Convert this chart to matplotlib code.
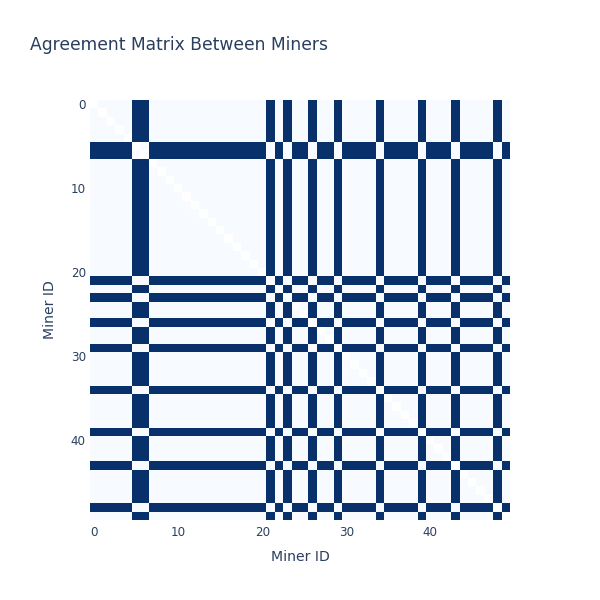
import numpy as np
import matplotlib.pyplot as plt

plt.rcParams['font.family'] = ['DejaVu Sans']

# miners 0..49; these miners disagree with the rest
n_miners = 50
dissenting = [5, 6, 21, 23, 26, 29, 34, 39, 43, 48]
tick_vals = [0, 10, 20, 30, 40]

group = np.zeros(n_miners, dtype=int)
group[dissenting] = 1
matrix = (group[:, None] != group[None, :]).astype(float)
np.fill_diagonal(matrix, np.nan)

text_color = '#2a3f5f'

fig = plt.figure(figsize=(6, 6), dpi=100)
ax = fig.add_axes([0.15, 0.1333, 0.7, 0.7])
ax.set_facecolor('white')
ax.imshow(matrix, cmap='Blues', vmin=0, vmax=1, interpolation='nearest',
          extent=(-0.5, n_miners - 0.5, n_miners - 0.5, -0.5), aspect='auto')

ax.set_xticks(tick_vals)
ax.set_yticks(tick_vals)
ax.tick_params(length=0, labelsize=8.6, labelcolor=text_color, pad=4)
ax.tick_params(axis='y', pad=3)
for s in ax.spines.values():
    s.set_visible(False)

ax.set_xlabel('Miner ID', fontsize=10.1, color=text_color, labelpad=8)
ax.set_ylabel('Miner ID', fontsize=10.1, color=text_color, labelpad=10)

fig.text(0.05, 0.925, 'Agreement Matrix Between Miners', fontsize=12.3,
         color=text_color, ha='left', va='center')

fig.savefig('out.png', dpi=100)
plt.close(fig)
